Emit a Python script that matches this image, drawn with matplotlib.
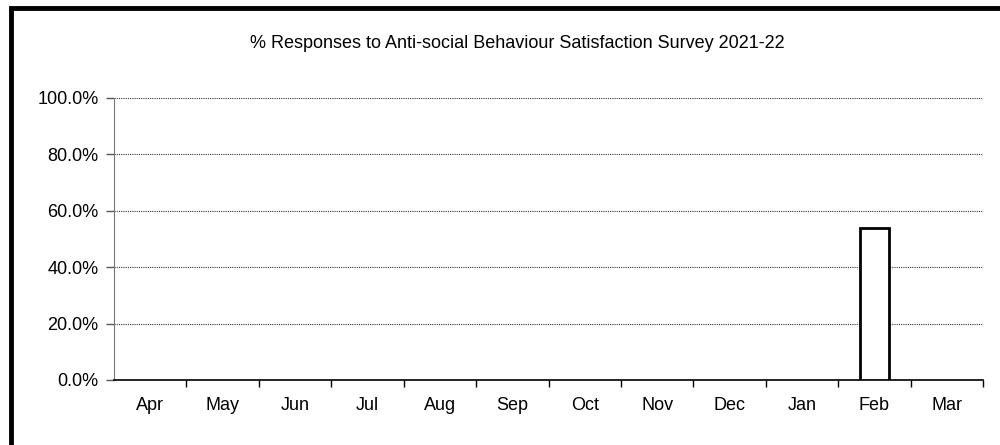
import matplotlib.pyplot as plt
from matplotlib.patches import Rectangle
from matplotlib.ticker import FuncFormatter

plt.rcParams['font.family'] = ['Liberation Sans', 'DejaVu Sans']

months = ['Apr', 'May', 'Jun', 'Jul', 'Aug', 'Sep', 'Oct', 'Nov', 'Dec', 'Jan', 'Feb', 'Mar']
responses = [0, 0, 0, 0, 0, 0, 0, 0, 0, 0, 53.8, 0]
title = '% Responses to Anti-social Behaviour Satisfaction Survey 2021-22'

fig = plt.figure(figsize=(10, 4.45), dpi=100)
ax = fig.add_axes([0.114, 1 - 380 / 445, 0.869, 282 / 445])

xs = list(range(len(months)))
vals = [v if v > 0 else float('nan') for v in responses]
ax.bar(xs, vals, width=0.41, color='white', edgecolor='black', linewidth=2, zorder=3)

ax.set_xlim(-0.5, len(months) - 0.5)
ax.set_ylim(0, 100)
ax.set_yticks(range(0, 101, 20))
ax.yaxis.set_major_formatter(FuncFormatter(lambda v, p: f'{v:.1f}%'))
ax.yaxis.grid(True, linestyle=(0, (1, 1)), color='#333333', linewidth=0.8)
ax.set_axisbelow(True)

# month labels centred, ticks on the category boundaries
ax.set_xticks(xs)
ax.set_xticklabels(months)
ax.tick_params(axis='x', which='major', length=0, pad=12, labelsize=13)
ax.set_xticks([x + 0.5 for x in xs], minor=True)
ax.tick_params(axis='x', which='minor', length=5, width=1, color='black', direction='out')
ax.tick_params(axis='y', length=6, width=1, color='#555555', pad=5, labelsize=13)

ax.spines['top'].set_visible(False)
ax.spines['right'].set_visible(False)
ax.spines['left'].set_color('#777777')
ax.spines['bottom'].set_linewidth(1.2)

fig.text(0.5175, 1 - 44 / 445, title, ha='center', va='center', fontsize=13)

# outer chart frame
fig.patches.append(Rectangle((11 / 1000, -0.1), 1.2, 1 - 8 / 445 + 0.1,
                             transform=fig.transFigure, fill=False,
                             edgecolor='black', linewidth=3.5))

fig.savefig('out.png', dpi=100)
